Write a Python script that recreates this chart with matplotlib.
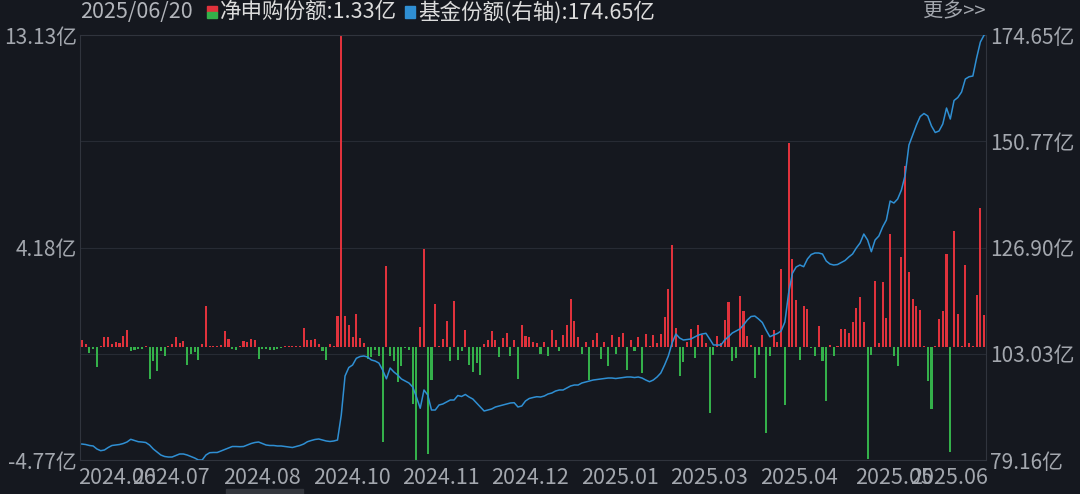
import matplotlib
matplotlib.use("Agg")
import matplotlib.pyplot as plt
import numpy as np
from matplotlib.patches import Rectangle

plt.rcParams['font.family'] = ['Noto Sans CJK SC', 'DejaVu Sans']

# net subscription per trading day (亿), 2024-06 .. 2025-06-20
net = [0.30, 0.12, -0.27, -0.10, -0.85, 0.05, 0.43, 0.43, 0.10, 0.20,
       0.15, 0.45, 0.69, -0.20, -0.15, -0.10, -0.10, 0.05, -1.36, -0.60,
       -1.04, -0.20, -0.40, 0.05, 0.10, 0.40, 0.15, 0.25, -0.75, -0.30,
       -0.24, -0.55, 0.10, 1.70, 0.03, 0.03, 0.03, 0.08, 0.65, 0.33,
       -0.10, -0.15, 0.05, 0.25, 0.22, 0.33, 0.27, -0.52, -0.10, -0.10,
       -0.15, -0.15, -0.10, -0.05, 0.03, 0.05, 0.05, 0.05, 0.05, 0.80,
       0.30, 0.30, 0.33, 0.10, -0.20, -0.55, 0.13, 0.05, 1.30, 13.13,
       1.30, 0.93, 0.40, 1.39, 0.36, 0.15, -0.50, -0.45, -0.13, -0.40,
       -4.00, 3.38, -0.40, -0.60, -1.50, -0.80, -0.05, -0.15, -2.40, -4.76,
       0.85, 4.10, -4.50, -1.40, 1.80, 0.05, 0.33, 1.07, -0.62, 1.94,
       -0.55, -0.17, 0.72, -0.76, -1.08, -0.69, -1.20, 0.10, 0.30, 0.65,
       0.27, -0.45, 0.36, 0.60, -0.38, 0.27, -1.36, 0.93, 0.46, 0.43,
       0.22, 0.15, -0.30, 0.20, -0.40, 0.70, 0.30, -0.20, 0.50, 0.90,
       2.00, 1.10, 0.40, -0.30, 0.20, -1.40, 0.30, 0.60, -0.50, 0.20,
       -0.80, 0.50, -0.30, 0.40, 0.60, -1.00, 0.30, -0.20, 0.40, -1.10,
       0.53, 0.03, 0.49, 0.15, 0.52, 1.25, 2.44, 4.27, 0.81, -1.25,
       -0.66, 0.22, 0.74, -0.48, 0.93, 0.50, 0.15, -2.80, -0.34, 0.44,
       0.15, 1.14, 1.90, -0.62, -0.48, 2.15, 1.52, 0.44, 0.08, -1.32,
       -0.34, 0.50, -3.64, -0.41, 0.72, 0.22, 3.27, -2.44, 8.58, 3.69,
       1.98, -0.55, 1.70, 1.59, -0.05, -0.38, 0.88, -0.62, -2.30, 0.08,
       -0.38, 0.04, 0.76, 0.76, 0.58, 1.03, 1.64, 2.09, 1.03, -4.73,
       -0.34, 2.75, 0.15, 2.71, 1.21, 4.76, -0.41, -0.83, 3.80, 7.60,
       3.13, 2.00, 1.73, 1.56, 0.03, -1.46, -2.63, 0.05, 1.17, 1.52,
       3.90, -4.45, 4.89, 1.38, 0.05, 3.46, 0.15, 0.05, 2.20, 5.86,
       1.33]

# fund shares (亿), right axis
share = [82.75, 82.64, 82.42, 82.31, 81.63, 81.25, 81.41, 81.97, 82.42, 82.53,
         82.64, 82.86, 83.20, 83.81, 83.54, 83.27, 83.20, 83.09, 82.53, 81.63,
         80.96, 80.28, 79.95, 79.83, 79.83, 80.17, 80.51, 80.51, 80.28, 79.95,
         79.61, 79.16, 79.16, 80.28, 80.80, 80.85, 80.85, 81.18, 81.52, 81.86,
         82.19, 82.19, 82.15, 82.19, 82.53, 82.86, 83.09, 83.20, 82.86, 82.53,
         82.42, 82.42, 82.31, 82.31, 82.19, 82.08, 81.97, 82.19, 82.42, 82.75,
         83.27, 83.54, 83.77, 83.88, 83.65, 83.43, 83.32, 83.43, 83.65, 89.27,
         98.03, 99.94, 100.50, 102.01, 102.41, 102.53, 102.30, 101.63, 101.40, 100.95,
         99.38, 97.40, 99.83, 98.93, 98.26, 97.36, 96.91, 96.46, 95.56, 93.31,
         90.78, 94.89, 93.76, 90.39, 90.39, 91.52, 91.74, 92.19, 92.64, 92.64,
         93.65, 93.43, 93.88, 93.31, 92.86, 91.97, 91.07, 90.17, 90.39, 90.62,
         91.07, 91.29, 91.52, 91.74, 91.97, 92.03, 91.07, 91.29, 92.42, 92.98,
         93.20, 93.38, 93.31, 93.54, 93.99, 94.21, 94.66, 94.89, 94.89, 95.34,
         95.79, 96.01, 96.01, 96.46, 96.68, 96.91, 97.13, 97.25, 97.36, 97.47,
         97.58, 97.58, 97.47, 97.58, 97.69, 97.81, 97.81, 97.69, 97.81, 97.58,
         97.13, 96.75, 97.13, 97.81, 98.71, 100.50, 102.53, 105.45, 107.47, 106.57,
         106.12, 106.23, 106.35, 106.80, 107.24, 107.47, 107.63, 106.35, 105.00, 105.00,
         105.00, 106.12, 106.86, 107.69, 108.14, 108.59, 109.49, 110.61, 111.40, 111.51,
         110.84, 110.05, 108.37, 106.86, 107.24, 107.58, 108.14, 110.16, 116.68, 121.10,
         122.52, 122.97, 122.59, 124.32, 125.33, 125.67, 125.67, 125.44, 123.87, 123.19,
         122.97, 123.08, 123.53, 123.98, 124.77, 125.44, 126.79, 127.91, 129.93, 128.59,
         125.96, 128.59, 129.49, 131.51, 133.08, 137.35, 136.90, 137.80, 139.82, 143.19,
         149.93, 152.18, 154.42, 156.33, 157.01, 156.45, 154.20, 152.74, 153.08, 154.65,
         158.24, 155.77, 159.93, 160.60, 161.84, 164.76, 165.27, 165.43, 169.48, 173.07,
         174.65]

left_ticks = [13.13, 4.18, -4.77]
right_ticks = [174.65, 150.77, 126.90, 103.03, 79.16]
month_labels = ['2024.06', '2024.07', '2024.08', '2024.10', '2024.11', '2024.12',
                '2025.01', '2025.03', '2025.04', '2025.05', '2025.06']
last_date = '2025/06/20'

month_pos = [9.3, 23.7, 47.9, 71.7, 95.5, 119.3, 143.1, 166.9, 190.7, 216.0, 230.6]

BG = '#15181f'
RED = '#e0323c'
GREEN = '#34b04a'
BLUE = '#2f8fd3'
TXT = '#a3a7ae'

W, H = 1080, 494
fig = plt.figure(figsize=(W / 100, H / 100), dpi=100, facecolor=BG)


def fx(px):
    return px / W


def fy(py):
    return 1 - py / H


ax = fig.add_axes([fx(80), fy(460), fx(906), 425 / H])
ax.set_facecolor(BG)
x = np.arange(len(net))
vals = np.array(net)
colors = [RED if v >= 0 else GREEN for v in vals]
ax.bar(x, vals, width=0.55, color=colors, linewidth=0, zorder=2)
ax.set_xlim(-0.5, len(net) - 0.5)
ax.set_ylim(left_ticks[-1], left_ticks[0])

for lvl in np.linspace(left_ticks[-1], left_ticks[0], 5)[1:-1]:
    ax.axhline(lvl, color='#272b34', lw=0.8, zorder=1)

ax.set_yticks(left_ticks)
ax.set_yticklabels([f'{v:.2f}亿' for v in left_ticks])
ax.set_xticks(month_pos)
ax.set_xticklabels(month_labels)
ax.tick_params(axis='both', length=0, colors=TXT, labelsize=15)
ax.tick_params(axis='y', pad=2)
ax.tick_params(axis='x', pad=5, labelsize=15.5)
for s in ax.spines.values():
    s.set_color('#30343d')
    s.set_linewidth(0.8)

ax2 = ax.twinx()
ax2.plot(x, share, color=BLUE, lw=1.1, zorder=3)
ax2.set_ylim(right_ticks[-1], right_ticks[0])
ax2.set_yticks(right_ticks)
ax2.set_yticklabels([f'{v:.2f}亿' for v in right_ticks])
ax2.tick_params(axis='y', length=0, colors=TXT, labelsize=15, pad=3)
for s in ax2.spines.values():
    s.set_visible(False)

# header legend
ty = fy(12)
fig.text(fx(80), ty, last_date, color='#b2b5bb', fontsize=15.5, va='center', ha='left')
fig.patches.append(Rectangle((fx(207), fy(12)), fx(10), 6 / H, transform=fig.transFigure,
                             color=RED, figure=fig))
fig.patches.append(Rectangle((fx(207), fy(18)), fx(10), 6 / H, transform=fig.transFigure,
                             color=GREEN, figure=fig))
fig.text(fx(220), ty, f'净申购份额:{net[-1]:.2f}亿', color='#dcdcdc', fontsize=15.5,
         va='center', ha='left')
fig.patches.append(Rectangle((fx(405), fy(18)), fx(10), 12 / H, transform=fig.transFigure,
                             color=BLUE, figure=fig))
fig.text(fx(418), ty, f'基金份额(右轴):{share[-1]:.2f}亿', color='#dcdcdc', fontsize=15.5,
         va='center', ha='left')
fig.text(fx(985), ty, '更多>>', color=TXT, fontsize=14.5, va='center', ha='right')

# bottom scroll strip
fig.patches.append(Rectangle((fx(226), 0), fx(77), 5 / H, transform=fig.transFigure,
                             color='#33363d', figure=fig))

fig.savefig('out.png', dpi=100, facecolor=BG)
